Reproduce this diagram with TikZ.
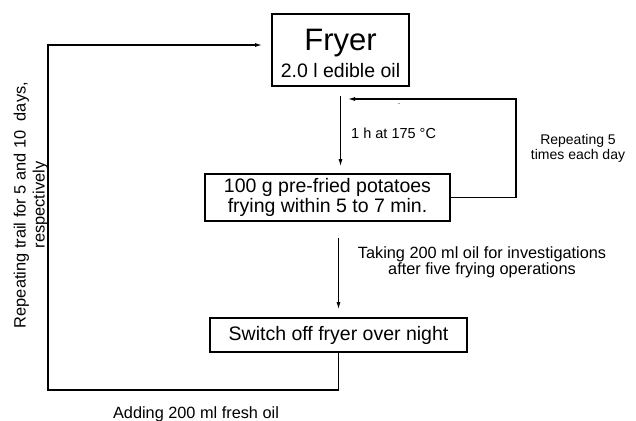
\documentclass[tikz,border=0pt]{standalone}
\usepackage{fontspec}
\setmainfont{Liberation Sans}
\usetikzlibrary{arrows.meta}
\begin{document}
\begin{tikzpicture}[x=1pt,y=-1pt,
  stepbox/.style={draw,line width=1.6pt,inner sep=0pt,align=center},
  flow/.style={line width=1.1pt,-{Latex[length=7pt,width=4pt]}},
  txt/.style={inner sep=0pt,align=center}]
\useasboundingbox (0,0) rectangle (636,420);
\node[stepbox,minimum width=137pt,minimum height=72pt] (fryer) at (340.5,50)
  {{\fontsize{31}{31}\selectfont\rule{0pt}{27.5pt}Fryer}\\[5.5pt]{\fontsize{19.5}{20}\selectfont 2.0 l edible oil}};
\node[stepbox,minimum width=245pt,minimum height=47pt,font=\fontsize{19.5}{20}\selectfont] (fries) at (327.5,197.5)
  {100 g pre-fried potatoes\\frying within 5 to 7 min.};
\node[stepbox,minimum width=257pt,minimum height=34pt,font=\fontsize{19.5}{20}\selectfont] (night) at (338.5,335)
  {Switch off fryer over night};
\coordinate (loopR) at (516,99);
\coordinate (loopL) at (348,99);
\coordinate (retBL) at (48,390);
\coordinate (retTL) at (48,45);
\coordinate (retEnd) at (262,45);
\draw[flow,shorten <=9pt,shorten >=7pt] (fryer.south) -- (fryer.south |- fries.north);
\draw[flow,shorten <=16pt,shorten >=8pt] (night.north |- fries.south) -- (night.north);
\draw[flow] (fries.east) -| (loopR) -- (loopL);
\draw[flow] (night.south) |- (retBL) -- (retTL) -- (retEnd);
\node[txt,anchor=west,font=\fontsize{14.5}{15}\selectfont] (heat) at (351,133) {1 h at 175 °C};
\node[txt,font=\fontsize{6}{6}\selectfont] (dash) at (399,105) {-};
\node[txt,font=\fontsize{14}{15}\selectfont] (loop) at (578,148.5) {Repeating 5\\times each day};
\node[txt,font=\fontsize{16.3}{16}\selectfont] (sample) at (482,262)
  {Taking 200 ml oil for investigations\\after five frying operations};
\node[txt,anchor=base,font=\fontsize{16.3}{16}\selectfont] (fresh) at (196,418) {Adding 200 ml fresh oil};
\node[txt,rotate=90,font=\fontsize{16.4}{19}\selectfont] (days) at (31,205)
  {Repeating trail for 5 and 10 \ days,\\respectively};
\end{tikzpicture}
\end{document}
